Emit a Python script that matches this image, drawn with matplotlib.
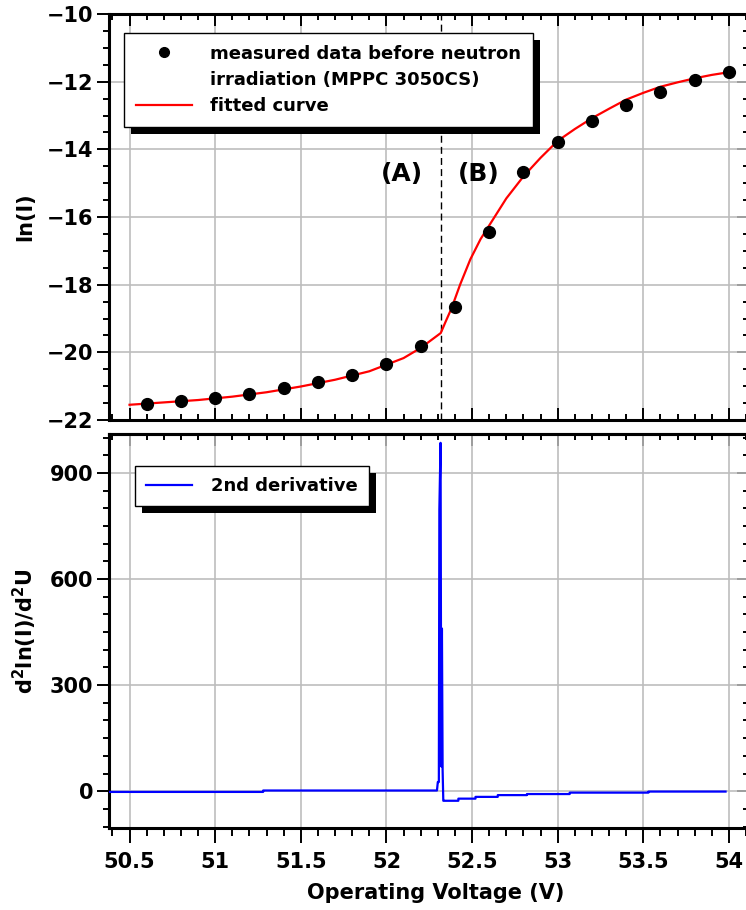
import matplotlib
matplotlib.use('Agg')
import matplotlib.pyplot as plt
from matplotlib.ticker import MultipleLocator, FormatStrFormatter
from matplotlib.lines import Line2D
from matplotlib.patches import Rectangle

plt.rcParams['font.family'] = 'DejaVu Sans'
plt.rcParams['font.weight'] = 'bold'
plt.rcParams['axes.labelweight'] = 'bold'

# puntos medidos antes de la irradiacion
volt = [50.6, 50.8, 51.0, 51.2, 51.4, 51.6, 51.8, 52.0, 52.2,
        52.4, 52.6, 52.8, 53.0, 53.2, 53.4, 53.6, 53.8, 54.0]
ln_i = [-21.54, -21.44, -21.36, -21.24, -21.04, -20.87, -20.67, -20.35, -19.82,
        -18.66, -16.43, -14.66, -13.77, -13.15, -12.68, -12.31, -11.96, -11.71]

# curva ajustada
fit_v = [50.5, 50.7, 50.9, 51.1, 51.3, 51.5, 51.7, 51.9, 52.1, 52.2, 52.317,
         52.345, 52.38, 52.43, 52.49, 52.55, 52.6, 52.7, 52.8, 52.9, 53.0,
         53.1, 53.2, 53.3, 53.4, 53.5, 53.6, 53.7, 53.8, 53.9, 54.0]
fit_ln = [-21.55, -21.48, -21.41, -21.31, -21.18, -21.01, -20.81, -20.56, -20.17, -19.87, -19.43,
          -19.1, -18.7, -18.0, -17.25, -16.65, -16.25, -15.45, -14.8, -14.25, -13.75,
          -13.4, -13.08, -12.8, -12.53, -12.33, -12.15, -12.02, -11.9, -11.8, -11.72]

# segunda derivada
d2_v = [50.38, 51.28, 51.28, 52.295, 52.30, 52.306, 52.309, 52.316, 52.32, 52.324, 52.328,
        52.332, 52.336, 52.42, 52.42, 52.52, 52.52, 52.65, 52.65, 52.82, 52.82, 53.07, 53.07,
        53.53, 53.53, 53.98]
d2_val = [-2, -2, 2, 2, 26, 26, 797, 985, 70, 460, 60, -27, -27, -27, -21, -21, -16, -16,
          -11, -11, -8, -8, -4, -4, -1, -1]

v_corte = 52.316

fig = plt.figure(figsize=(7.46, 9.10), dpi=100)
ax1 = fig.add_axes([109/746, 1-420/910, 640/746, 406/910])
ax2 = fig.add_axes([109/746, 1-828/910, 640/746, 394/910])

ax1.plot(fit_v, fit_ln, color='red', lw=1.6, zorder=3, label='fitted curve')
ax1.plot(volt, ln_i, 'o', color='black', ms=8.5, zorder=4)
ax1.axvline(v_corte, color='black', ls='--', lw=1, dashes=(5, 3), zorder=2)
ax1.text(52.091, -14.74, '(A)', fontsize=18, ha='center', va='center')
ax1.text(52.538, -14.74, '(B)', fontsize=18, ha='center', va='center')

ax2.plot(d2_v, d2_val, color='blue', lw=1.6, zorder=3)

fs = 15
for ax in (ax1, ax2):
    ax.set_xlim(50.38, 54.117)
    ax.xaxis.set_major_locator(MultipleLocator(0.5))
    ax.xaxis.set_minor_locator(MultipleLocator(0.1))
    ax.xaxis.set_major_formatter(FormatStrFormatter('%g'))
    ax.grid(True, which='major', color='#bdbdbd', lw=1.2)
    ax.set_axisbelow(True)
    for s in ax.spines.values():
        s.set_linewidth(2.2)
    ax.tick_params(axis='y', which='both', direction='out', right=False, labelsize=fs, width=1.4, pad=3)
    ax.tick_params(axis='y', which='major', length=8.5)
    ax.tick_params(axis='y', which='minor', length=4.5)

ax1.set_ylim(-22, -10)
ax1.yaxis.set_major_locator(MultipleLocator(2))
ax1.yaxis.set_minor_locator(MultipleLocator(0.5))
ax1.tick_params(axis='x', which='both', direction='in', top=True, bottom=True, labelbottom=False, width=1.4)
ax1.tick_params(axis='x', which='major', length=8.5)
ax1.tick_params(axis='x', which='minor', length=4.5)

ax2.set_ylim(-104, 1010)
ax2.yaxis.set_major_locator(MultipleLocator(300))
ax2.yaxis.set_minor_locator(MultipleLocator(50))
ax2.tick_params(axis='x', which='both', direction='out', top=False, labelsize=fs, width=1.4, pad=7)
ax2.tick_params(axis='x', which='major', length=10.5)
ax2.tick_params(axis='x', which='minor', length=5.5)

# ticks hacia adentro en los lados opuestos
for ax, step, sub in ((ax1, 2, 0.5), (ax2, 300, 50)):
    sec = ax.secondary_yaxis('right')
    sec.yaxis.set_major_locator(MultipleLocator(step))
    sec.yaxis.set_minor_locator(MultipleLocator(sub))
    sec.tick_params(which='both', direction='in', labelright=False, width=1.4)
    sec.tick_params(which='major', length=8.5)
    sec.tick_params(which='minor', length=4.5)
    sec.spines['right'].set_linewidth(2.2)
top2 = ax2.secondary_xaxis('top')
top2.xaxis.set_major_locator(MultipleLocator(0.5))
top2.xaxis.set_minor_locator(MultipleLocator(0.1))
top2.tick_params(which='both', direction='in', labeltop=False, width=1.4)
top2.tick_params(which='major', length=8.5)
top2.tick_params(which='minor', length=4.5)
top2.spines['top'].set_linewidth(2.2)

ax1.set_ylabel('ln(I)', fontsize=fs)
ax1.yaxis.set_label_coords(-0.115, 0.5)
ax2.set_ylabel(r'd$^\mathbf{2}$ln(I)/d$^\mathbf{2}$U', fontsize=fs)
ax2.yaxis.set_label_coords(-0.11, 0.5)
ax2.set_xlabel('Operating Voltage (V)', fontsize=fs)
ax2.xaxis.set_label_coords(0.51, -0.14)

h1 = [Line2D([], [], ls='none', marker='o', color='black', ms=7),
      Line2D([], [], ls='none'),
      Line2D([], [], color='red', lw=1.6)]
l1 = ['measured data before neutron', 'irradiation (MPPC 3050CS)', 'fitted curve']
leg1 = ax1.legend(h1, l1, loc='upper left', bbox_to_anchor=(0.0235, 0.953), borderaxespad=0,
                  fontsize=13, frameon=True, fancybox=False, framealpha=1, edgecolor='black',
                  handlelength=3.1, handletextpad=1.0, labelspacing=0.45, borderpad=0.65)
leg1.get_frame().set_linewidth(1.0)

h2 = [Line2D([], [], color='blue', lw=1.6)]
leg2 = ax2.legend(h2, ['2nd derivative'], loc='upper left', bbox_to_anchor=(0.041, 0.918),
                  borderaxespad=0, fontsize=13, frameon=True, fancybox=False, framealpha=1,
                  edgecolor='black', handlelength=2.55, handletextpad=1.05, borderpad=0.6)
leg2.get_frame().set_linewidth(1.0)


def sombra(ax, leg, dx=7, dy=7):
    fig.canvas.draw()
    bb = leg.get_frame().get_window_extent()
    bb = bb.translated(dx, -dy).transformed(ax.transAxes.inverted())
    r = Rectangle((bb.x0, bb.y0), bb.width, bb.height, transform=ax.transAxes,
                  facecolor='black', edgecolor='none', zorder=4.9, clip_on=False)
    ax.add_patch(r)


sombra(ax1, leg1)
sombra(ax2, leg2)

fig.savefig('out.png', dpi=100)
